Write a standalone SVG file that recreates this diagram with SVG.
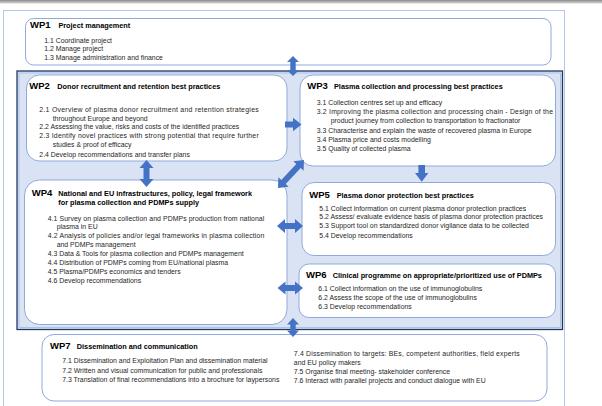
<svg xmlns="http://www.w3.org/2000/svg" width="602" height="406" viewBox="0 0 602 406">
<defs>
<linearGradient id="topbar" x1="0" y1="0" x2="0" y2="1">
<stop offset="0" stop-color="#8c8c8c"/>
<stop offset="1" stop-color="#d6d6d6"/>
</linearGradient>
</defs>
<style>
.box{fill:#ffffff;stroke:#8faadc;stroke-width:1}
.wp{font-family:"Liberation Sans",Arial,sans-serif;font-weight:bold;font-size:9.5px;fill:#000}
.st{font-family:"Liberation Sans",Arial,sans-serif;font-weight:bold;font-size:7.3px;fill:#000}
.tx{font-family:"Liberation Sans",Arial,sans-serif;font-size:6.9px;fill:#262626}
.arr{fill:#4472c4}
</style>
<rect x="0" y="0" width="602" height="406" fill="#ffffff"/>
<rect x="0" y="0" width="602" height="3.5" fill="url(#topbar)"/>
<rect x="3.5" y="10.5" width="561" height="400" fill="none" stroke="#b4c7e7" stroke-width="1"/>
<g id="panel">
<rect x="17" y="71" width="545.5" height="258.5" fill="#dae3f3" stroke="#1f3864" stroke-width="1.3"/>
<rect x="19" y="73" width="541.5" height="254.5" fill="none" stroke="#8faadc" stroke-width="0.6"/>
</g>
<g id="wp1">
<rect class="box" x="25.5" y="18.5" width="525.5" height="46.5" rx="8"/>
<text class="wp" x="30" y="28">WP1</text>
<text class="st" x="58.4" y="28">Project management</text>
<text class="tx" x="44.2" y="42.5">1.1 Coordinate project</text>
<text class="tx" x="44.2" y="51">1.2 Manage project</text>
<text class="tx" x="44.2" y="59.5">1.3 Manage administration and finance</text>
</g>
<g id="wp2">
<rect class="box" x="26.5" y="75" width="260.5" height="86" rx="13"/>
<text class="wp" x="29.3" y="89.3">WP2</text>
<text class="st" x="57.3" y="89.3">Donor recruitment and retention best practices</text>
<text class="tx" x="39.3" y="112.3" textLength="219.4" lengthAdjust="spacing">2.1 Overview of plasma donor recruitment and retention strategies</text>
<text class="tx" x="52.7" y="120.6">throughout Europe and beyond</text>
<text class="tx" x="39.3" y="129.4">2.2 Assessing the value, risks and costs of the identified practices</text>
<text class="tx" x="39.3" y="138.3" textLength="219.4" lengthAdjust="spacing">2.3 Identify novel practices with strong potential that require further</text>
<text class="tx" x="52.7" y="147.2">studies &amp; proof of efficacy</text>
<text class="tx" x="39.3" y="157">2.4 Develop recommendations and transfer plans</text>
</g>
<g id="wp3">
<rect class="box" x="300" y="75" width="255.5" height="91" rx="13"/>
<text class="wp" x="307.3" y="89">WP3</text>
<text class="st" x="334" y="89">Plasma collection and processing best practices</text>
<text class="tx" x="316.7" y="105.3">3.1 Collection centres set up and efficacy</text>
<text class="tx" x="316.7" y="114.3" textLength="236.3" lengthAdjust="spacing">3.2 Improving the plasma collection and processing chain - Design of the</text>
<text class="tx" x="330.7" y="123.3">product journey from collection to transportation to fractionator</text>
<text class="tx" x="316.7" y="132.7">3.3 Characterise and explain the waste of recovered plasma in Europe</text>
<text class="tx" x="316.7" y="141.7">3.4 Plasma price and costs modelling</text>
<text class="tx" x="316.7" y="150.8">3.5 Quality of collected plasma</text>
</g>
<g id="wp4">
<rect class="box" x="24.5" y="180" width="262.5" height="144.5" rx="15"/>
<text class="wp" x="31.7" y="196">WP4</text>
<text class="st" x="58.3" y="196">National and EU infrastructures, policy, legal framework</text>
<text class="st" x="58.3" y="205">for plasma collection and PDMPs supply</text>
<text class="tx" x="47.7" y="221" textLength="216.6" lengthAdjust="spacing">4.1 Survey on plasma collection and PDMPs production from national</text>
<text class="tx" x="56.7" y="229.2">plasma in EU</text>
<text class="tx" x="47.7" y="238.3" textLength="216.6" lengthAdjust="spacing">4.2 Analysis of policies and/or legal frameworks in plasma collection</text>
<text class="tx" x="56.7" y="246.7">and PDMPs management</text>
<text class="tx" x="47.7" y="256">4.3 Data &amp; Tools for plasma collection and PDMPs management</text>
<text class="tx" x="47.7" y="265.3">4.4 Distribution of PDMPs coming from EU/national plasma</text>
<text class="tx" x="47.7" y="274.3">4.5 Plasma/PDMPs economics and tenders</text>
<text class="tx" x="47.7" y="283.3">4.6 Develop recommendations</text>
</g>
<g id="wp5">
<rect class="box" x="302" y="182.5" width="253.5" height="73" rx="12"/>
<text class="wp" x="309.3" y="198.3">WP5</text>
<text class="st" x="336.7" y="198.3">Plasma donor protection best practices</text>
<text class="tx" x="319.3" y="210.7">5.1 Collect information on current plasma donor protection practices</text>
<text class="tx" x="319.3" y="219.4">5.2 Assess/ evaluate evidence basis of plasma donor protection practices</text>
<text class="tx" x="319.3" y="228.3">5.3 Support tool on standardized donor vigilance data to be collected</text>
<text class="tx" x="319.3" y="237.5">5.4 Develop recommendations</text>
</g>
<g id="wp6">
<rect class="box" x="299" y="264" width="256.5" height="53.5" rx="10"/>
<text class="wp" x="306" y="278.3">WP6</text>
<text class="st" x="332.7" y="278.3">Clinical programme on appropriate/prioritized use of PDMPs</text>
<text class="tx" x="318.3" y="291">6.1 Collect information on the use of immunoglobulins</text>
<text class="tx" x="318.3" y="300">6.2 Assess the scope of the use of immunoglobulins</text>
<text class="tx" x="318.3" y="309">6.3 Develop recommendations</text>
</g>
<g id="wp7">
<rect class="box" x="42" y="334.5" width="505" height="66.5" rx="12"/>
<text class="wp" x="50" y="349.3">WP7</text>
<text class="st" x="76.8" y="349.3">Dissemination and communication</text>
<text class="tx" x="62.2" y="363.3">7.1 Dissemination and Exploitation Plan and dissemination material</text>
<text class="tx" x="62.2" y="372.6">7.2 Written and visual communication for public and professionals</text>
<text class="tx" x="62.2" y="381.7">7.3 Translation of final recommendations into a brochure for laypersons</text>
<text class="tx" x="293.8" y="356" textLength="226" lengthAdjust="spacing">7.4 Dissemination to targets: BEs, competent authorities, field experts</text>
<text class="tx" x="293.8" y="365">and EU policy makers</text>
<text class="tx" x="293.8" y="374">7.5 Organise final meeting- stakeholder conference</text>
<text class="tx" x="293.8" y="382.7">7.6 Interact with parallel projects and conduct dialogue with EU</text>
</g>
<g id="connectors">
<polygon class="arr" points="293,56 299,62 295.7,62 295.7,70 299,70 293,76 287,70 290.3,70 290.3,62 287,62"/>
<polygon class="arr" points="293,318 299,324.5 295.7,324.5 295.7,330.5 299,330.5 293,337 287,330.5 290.3,330.5 290.3,324.5 287,324.5"/>
<polygon class="arr" points="146.5,160 153.5,168 149.5,168 149.5,179 153.5,179 146.5,187 139.5,179 143.5,179 143.5,168 139.5,168"/>
<polygon class="arr" points="285,121.5 293,121.5 293,117.8 301.5,124.5 293,131.2 293,127.5 285,127.5"/>
<polygon class="arr" points="418.4,165 425,165 425,173 428.4,173 421.7,181.7 415,173 418.4,173"/>
<polygon class="arr" transform="translate(291,174) rotate(-47)" points="-19,0 -11,-7 -11,-3 11,-3 11,-7 19,0 11,7 11,3 -11,3 -11,7"/>
<polygon class="arr" points="277,226 285,219 285,223 295,223 295,219 303,226 295,233 295,229 285,229 285,233"/>
<polygon class="arr" points="277.5,288 285.5,281.5 285.5,285 295,285 295,281.5 303,288 295,294.5 295,291 285.5,291 285.5,294.5"/>
</g>
</svg>
